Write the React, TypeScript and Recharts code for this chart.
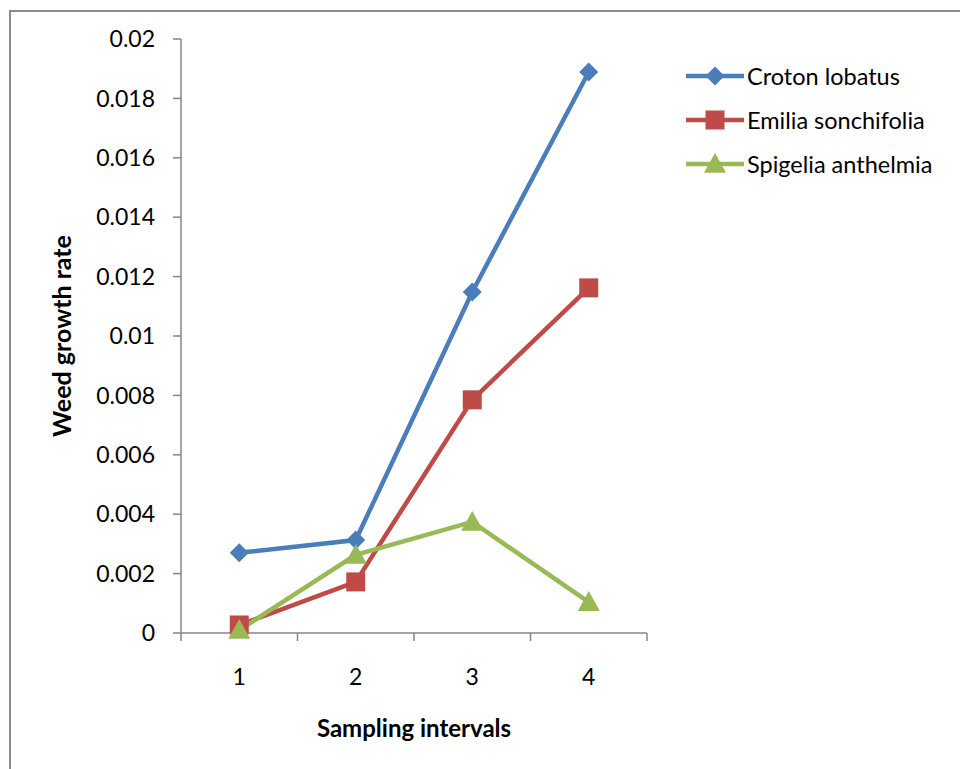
import { LineChart, Line, XAxis, YAxis } from 'recharts'

const intervals = [1, 2, 3, 4]
const crotonLobatus = [0.0027, 0.00313, 0.01148, 0.01889]
const emiliaSonchifolia = [0.00027, 0.00172, 0.00785, 0.01162]
const spigeliaAnthelmia = [0.0001, 0.00263, 0.00374, 0.00104]
const yTicks = [0, 0.002, 0.004, 0.006, 0.008, 0.01, 0.012, 0.014, 0.016, 0.018, 0.02]
const xBoundaries = [0.5, 1.5, 2.5, 3.5, 4.5]

type Shape = 'diamond' | 'square' | 'triangle'

const SERIES: { key: string; name: string; color: string; shape: Shape }[] = [
  { key: 'croton', name: 'Croton lobatus', color: '#4a7ebb', shape: 'diamond' },
  { key: 'emilia', name: 'Emilia sonchifolia', color: '#be4b48', shape: 'square' },
  { key: 'spigelia', name: 'Spigelia anthelmia', color: '#98b954', shape: 'triangle' }
]

const data = intervals.map((x, i) => ({
  x,
  croton: crotonLobatus[i],
  emilia: emiliaSonchifolia[i],
  spigelia: spigeliaAnthelmia[i]
}))

const FONT = 'Lato, "Open Sans", sans-serif'
const AXIS_COLOR = '#868686'

function Marker({ cx, cy, color, shape }: { cx: number; cy: number; color: string; shape: Shape }) {
  if (shape === 'diamond') {
    const r = 9.5
    return <path d={`M${cx},${cy - r}L${cx + r},${cy}L${cx},${cy + r}L${cx - r},${cy}Z`} fill={color} />
  }
  if (shape === 'square') {
    const r = 9.5
    return <rect x={cx - r} y={cy - r} width={r * 2} height={r * 2} fill={color} />
  }
  const r = 11
  return <path d={`M${cx},${cy - r}L${cx + r},${cy + r * 0.8}L${cx - r},${cy + r * 0.8}Z`} fill={color} />
}

function formatTick(v: number) {
  return String(Number(v.toFixed(3)))
}

function LegendBox() {
  return (
    <div style={{ position: 'absolute', left: 686, top: 54, fontFamily: FONT, fontSize: 23.5, color: '#000' }}>
      {SERIES.map(s => (
        <div key={s.key} style={{ display: 'flex', alignItems: 'center', height: 44 }}>
          <svg width={58} height={24} style={{ marginRight: 3 }}>
            <line x1={0} y1={12} x2={58} y2={12} stroke={s.color} strokeWidth={4.5} />
            <Marker cx={29} cy={12} color={s.color} shape={s.shape} />
          </svg>
          <span>{s.name}</span>
        </div>
      ))}
    </div>
  )
}

export default function App() {
  return (
    <div style={{ position: 'absolute', left: 0, top: 0, width: 960, height: 769, overflow: 'hidden', background: '#fff' }}>
      <div
        style={{
          position: 'absolute',
          left: 9,
          top: 10,
          width: 1000,
          height: 800,
          borderLeft: '2px solid #8c8c8c',
          borderTop: '2px solid #8c8c8c'
        }}
      />
      <LineChart
        width={960}
        height={769}
        data={data}
        margin={{ top: 39, right: 313, bottom: 26, left: 10 }}
        style={{ position: 'absolute', left: 0, top: 0, fontFamily: FONT }}
      >
        <XAxis
          xAxisId="labels"
          type="number"
          dataKey="x"
          domain={[0.5, 4.5]}
          ticks={intervals}
          height={109}
          axisLine={false}
          tickLine={false}
          tickSize={0}
          tickMargin={35}
          tick={{ fill: '#000', fontSize: 23, fontFamily: FONT }}
          label={{
            value: 'Sampling intervals',
            position: 'insideBottom',
            offset: 6,
            style: { fill: '#000', fontSize: 24, fontWeight: 'bold', fontFamily: FONT }
          }}
        />
        {/* boundary ticks between categories, like the spreadsheet axis */}
        <XAxis
          xAxisId="bounds"
          type="number"
          dataKey="x"
          domain={[0.5, 4.5]}
          ticks={xBoundaries}
          tick={() => <g />}
          tickSize={8}
          height={1}
          axisLine={{ stroke: AXIS_COLOR, strokeWidth: 1.5 }}
          tickLine={{ stroke: AXIS_COLOR, strokeWidth: 1.5 }}
        />
        <YAxis
          type="number"
          domain={[0, 0.02]}
          ticks={yTicks}
          width={171}
          tickFormatter={formatTick}
          tickSize={8}
          tickMargin={18}
          tick={{ fill: '#000', fontSize: 23, fontFamily: FONT }}
          axisLine={{ stroke: AXIS_COLOR, strokeWidth: 1.5 }}
          tickLine={{ stroke: AXIS_COLOR, strokeWidth: 1.5 }}
          label={{
            value: 'Weed growth rate',
            angle: -90,
            position: 'insideLeft',
            offset: 52,
            style: { textAnchor: 'middle', fill: '#000', fontSize: 25, fontWeight: 'bold', fontFamily: FONT }
          }}
        />
        <Line
          xAxisId="bounds"
          dataKey="croton"
          stroke="none"
          dot={false}
          activeDot={false}
          legendType="none"
          isAnimationActive={false}
        />
        {SERIES.map(s => (
          <Line
            key={s.key}
            xAxisId="labels"
            type="linear"
            dataKey={s.key}
            name={s.name}
            stroke={s.color}
            strokeWidth={4.5}
            isAnimationActive={false}
            dot={(p: any) => <Marker key={`${s.key}-${p.index}`} cx={p.cx} cy={p.cy} color={s.color} shape={s.shape} />}
            activeDot={false}
          />
        ))}
      </LineChart>
      <LegendBox />
    </div>
  )
}
